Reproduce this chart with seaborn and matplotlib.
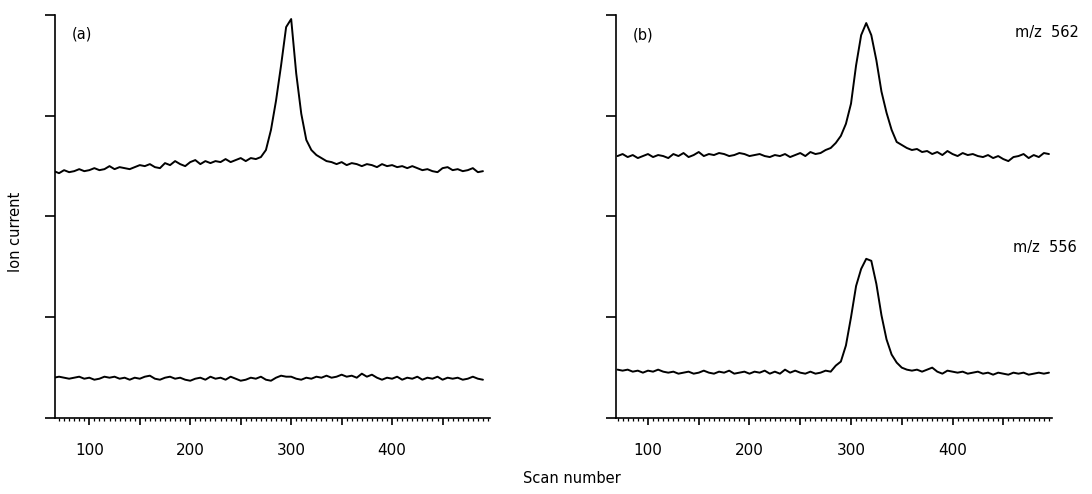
import numpy as np
import pandas as pd
import seaborn as sns
import matplotlib.pyplot as plt
from matplotlib.ticker import MultipleLocator, FixedLocator

# scan numbers for the two panels
scans_a = list(range(65, 491, 5))
scans_b = list(range(70, 496, 5))

# (a) upper and lower traces
ion_a_top = [2.45, 2.43, 2.46, 2.44, 2.45, 2.47, 2.45, 2.46, 2.48, 2.46,
             2.47, 2.50, 2.47, 2.49, 2.48, 2.47, 2.49, 2.51, 2.50, 2.52,
             2.49, 2.48, 2.53, 2.51, 2.55, 2.52, 2.50, 2.54, 2.56, 2.52,
             2.55, 2.53, 2.55, 2.54, 2.57, 2.54, 2.56, 2.58, 2.55, 2.58,
             2.57, 2.59, 2.66, 2.86, 3.15, 3.50, 3.88, 3.96, 3.42, 3.02,
             2.76, 2.66, 2.61, 2.58, 2.55, 2.54, 2.52, 2.54, 2.51, 2.53,
             2.52, 2.50, 2.52, 2.51, 2.49, 2.52, 2.50, 2.51, 2.49, 2.50,
             2.48, 2.50, 2.48, 2.46, 2.47, 2.45, 2.44, 2.48, 2.49, 2.46,
             2.47, 2.45, 2.46, 2.48, 2.44, 2.45]
ion_a_bottom = [0.40, 0.41, 0.40, 0.39, 0.40, 0.41, 0.39, 0.40, 0.38, 0.39,
                0.41, 0.40, 0.41, 0.39, 0.40, 0.38, 0.40, 0.39, 0.41, 0.42,
                0.39, 0.38, 0.40, 0.41, 0.39, 0.40, 0.38, 0.37, 0.39, 0.40,
                0.38, 0.41, 0.39, 0.40, 0.38, 0.41, 0.39, 0.37, 0.38, 0.40,
                0.39, 0.41, 0.38, 0.37, 0.40, 0.42, 0.41, 0.41, 0.39, 0.38,
                0.40, 0.39, 0.41, 0.40, 0.42, 0.40, 0.41, 0.43, 0.41, 0.42,
                0.40, 0.44, 0.41, 0.43, 0.40, 0.38, 0.40, 0.39, 0.41, 0.38,
                0.40, 0.39, 0.41, 0.38, 0.40, 0.39, 0.41, 0.38, 0.40, 0.39,
                0.40, 0.38, 0.39, 0.41, 0.39, 0.38]

# (b) m/z 562 and m/z 556
ion_562 = [2.60, 2.62, 2.59, 2.61, 2.58, 2.60, 2.62, 2.59, 2.61, 2.60,
           2.58, 2.62, 2.60, 2.63, 2.59, 2.61, 2.64, 2.60, 2.62, 2.61,
           2.63, 2.62, 2.60, 2.61, 2.63, 2.62, 2.60, 2.61, 2.62, 2.60,
           2.59, 2.61, 2.60, 2.62, 2.59, 2.61, 2.63, 2.60, 2.64, 2.62,
           2.63, 2.66, 2.68, 2.73, 2.80, 2.92, 3.12, 3.50, 3.80, 3.92,
           3.80, 3.55, 3.24, 3.03, 2.86, 2.74, 2.71, 2.68, 2.66, 2.67,
           2.64, 2.65, 2.62, 2.64, 2.61, 2.65, 2.62, 2.60, 2.63, 2.61,
           2.62, 2.60, 2.59, 2.61, 2.58, 2.60, 2.57, 2.55, 2.59, 2.60,
           2.62, 2.58, 2.61, 2.59, 2.63, 2.62]
ion_556 = [0.48, 0.47, 0.48, 0.46, 0.47, 0.45, 0.47, 0.46, 0.48, 0.46,
           0.45, 0.46, 0.44, 0.45, 0.46, 0.44, 0.45, 0.47, 0.45, 0.44,
           0.46, 0.45, 0.47, 0.44, 0.45, 0.46, 0.44, 0.46, 0.45, 0.47,
           0.44, 0.46, 0.44, 0.48, 0.45, 0.47, 0.45, 0.44, 0.46, 0.44,
           0.45, 0.47, 0.46, 0.52, 0.56, 0.72, 1.00, 1.31, 1.48, 1.58,
           1.56, 1.33, 1.02, 0.78, 0.63, 0.55, 0.50, 0.48, 0.47, 0.48,
           0.46, 0.48, 0.50, 0.46, 0.44, 0.47, 0.46, 0.45, 0.46, 0.44,
           0.45, 0.46, 0.44, 0.45, 0.43, 0.45, 0.44, 0.43, 0.45, 0.44,
           0.45, 0.43, 0.44, 0.45, 0.44, 0.45]

df_a = pd.DataFrame({'scan': scans_a, 'top': ion_a_top, 'bottom': ion_a_bottom})
df_b = pd.DataFrame({'scan': scans_b, 'top': ion_562, 'bottom': ion_556})

sns.set_style('ticks')
plt.rcParams['font.family'] = ['DejaVu Sans']
plt.rcParams['text.color'] = 'black'
plt.rcParams['xtick.color'] = 'black'
plt.rcParams['ytick.color'] = 'black'
plt.rcParams['axes.edgecolor'] = 'black'

W, H = 1092, 494
fig = plt.figure(figsize=(W / 100, H / 100), dpi=100)
ax_a = fig.add_axes([55 / W, 76 / H, 435 / W, 403 / H])
ax_b = fig.add_axes([616 / W, 76 / H, 436 / W, 403 / H])

for ax, df, xlim in [(ax_a, df_a, (66, 497)), (ax_b, df_b, (68.5, 498))]:
    sns.lineplot(data=df, x='scan', y='top', ax=ax, color='black', lw=1.4)
    sns.lineplot(data=df, x='scan', y='bottom', ax=ax, color='black', lw=1.4)
    sns.despine(ax=ax)
    ax.spines['left'].set_linewidth(1.2)
    ax.spines['bottom'].set_linewidth(1.2)
    ax.set_xlabel('')
    ax.set_ylabel('')
    # y ticks without labels
    ax.yaxis.set_major_locator(FixedLocator([0, 1, 2, 3, 4]))
    ax.set_yticklabels([])
    ax.tick_params(axis='y', length=7, width=1.2, direction='out')
    # ruler-like x ticks
    ax.set_xticks([100, 150, 200, 250, 300, 350, 400, 450])
    ax.set_xticklabels(['100', '', '200', '', '300', '', '400', ''])
    ax.xaxis.set_minor_locator(MultipleLocator(5))
    ax.tick_params(axis='x', which='major', length=5, width=1.2, pad=13, labelsize=11)
    ax.tick_params(axis='x', which='minor', length=2.5, width=0.9)
    ax.set_xlim(*xlim)
    ax.set_ylim(0, 4)

fig.text(82 / W, 1 - 34 / H, '(a)', ha='center', va='center', fontsize=10.5)
fig.text(643 / W, 1 - 35 / H, '(b)', ha='center', va='center', fontsize=10.5)
fig.text(1047 / W, 1 - 32 / H, 'm/z  562', ha='center', va='center', fontsize=10.5)
fig.text(1045 / W, 1 - 247 / H, 'm/z  556', ha='center', va='center', fontsize=10.5)
fig.text(16 / W, 1 - 232 / H, 'Ion current', ha='center', va='center', rotation=90, fontsize=10.5)
fig.text(572 / W, 1 - 478 / H, 'Scan number', ha='center', va='center', fontsize=10.5)

fig.savefig('out.png', dpi=100)
